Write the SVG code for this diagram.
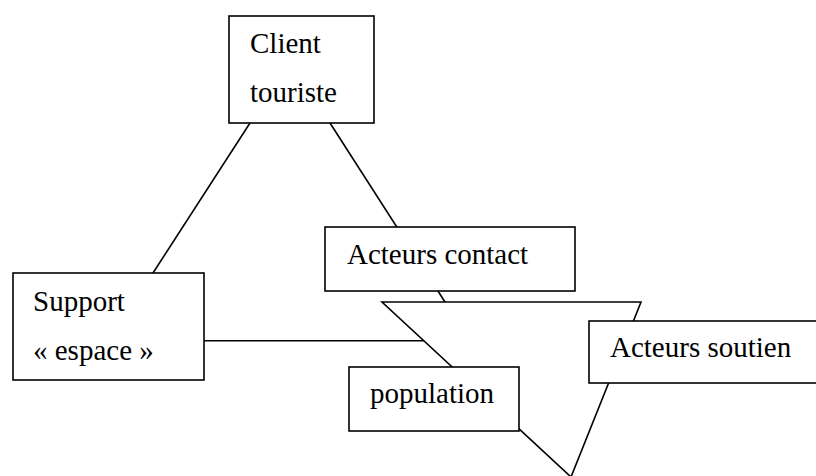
<svg xmlns="http://www.w3.org/2000/svg" width="816" height="476" viewBox="0 0 816 476">
<style>
.box{fill:#fff;stroke:#000;stroke-width:1.6}
.ln{fill:none;stroke:#000;stroke-width:1.6}
text{font-family:"Liberation Serif","Times New Roman",serif;font-size:29px;fill:#000}
</style>
<rect width="816" height="476" fill="#fff"/>
<g id="connectors">
<line class="ln" x1="250" y1="123" x2="153" y2="273"/>
<line class="ln" x1="330" y1="123" x2="445" y2="302"/>
<line class="ln" x1="204" y1="340.7" x2="424" y2="340.7"/>
</g>
<g id="triangle">
<polygon class="ln" points="382,302 641,302 571,477"/>
</g>
<g id="client">
<rect class="box" x="229" y="16" width="145" height="107"/>
<text x="250" y="53">Client</text>
<text x="250" y="102">touriste</text>
</g>
<g id="acteurs-contact">
<rect class="box" x="325" y="227" width="250" height="64"/>
<text x="347" y="264">Acteurs contact</text>
</g>
<g id="support">
<rect class="box" x="13" y="273" width="191" height="107"/>
<text x="33" y="311">Support</text>
<text x="33" y="360">« espace »</text>
</g>
<g id="population">
<rect class="box" x="349" y="367" width="170" height="64"/>
<text x="370" y="403">population</text>
</g>
<g id="acteurs-soutien">
<rect class="box" x="589" y="321" width="230" height="62"/>
<text x="610" y="357">Acteurs soutien</text>
</g>
</svg>
